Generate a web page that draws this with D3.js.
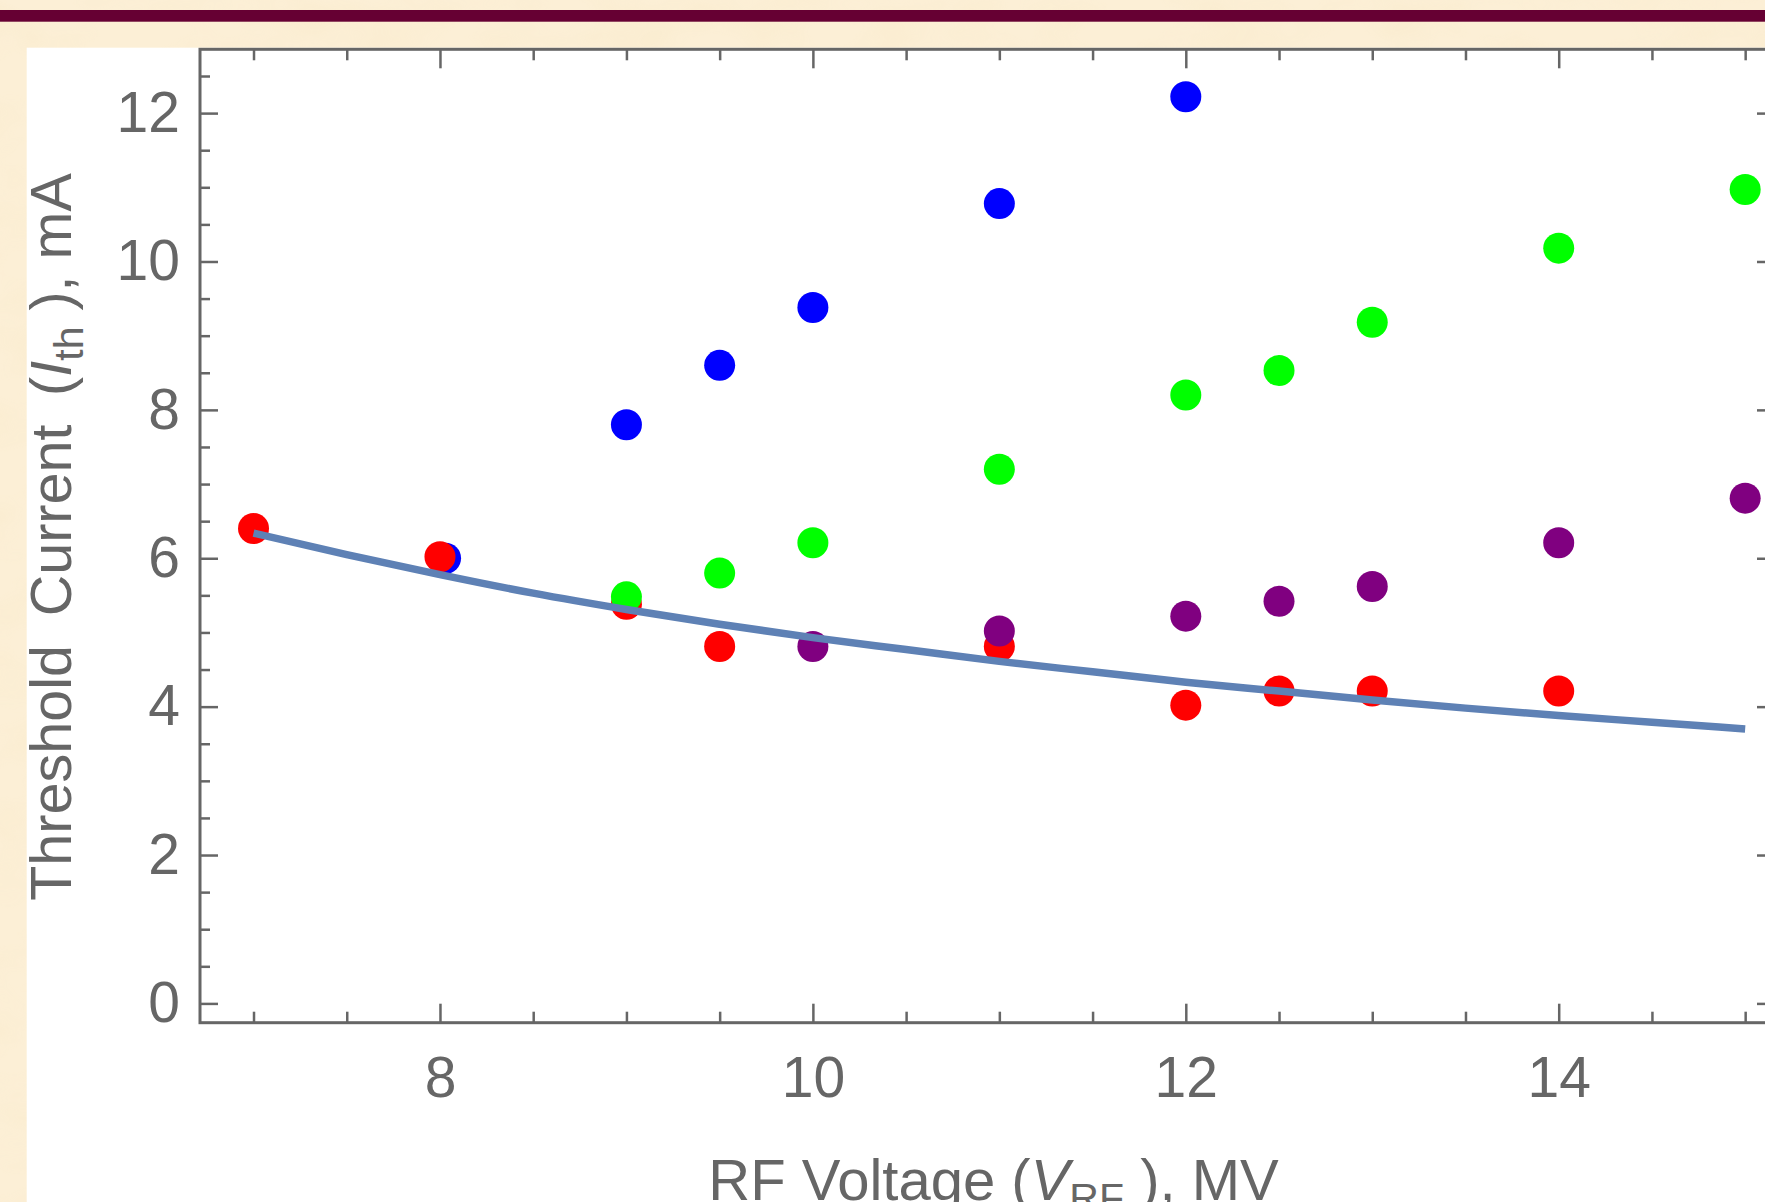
<!DOCTYPE html>
<html>
<head>
<meta charset="utf-8">
<script src="https://cdn.jsdelivr.net/npm/d3@7"></script>
<style>
  html, body { margin: 0; padding: 0; background: #fcefd6; }
  svg { display: block; }
</style>
</head>
<body>
<svg id="chart" width="1765" height="1202"></svg>
<script>
// Measured threshold currents (mA) against RF voltage (MV), one array pair per series
const blueV   = [8.03, 9, 9.5, 10, 11, 12];
const blueI   = [6.0, 7.8, 8.6, 9.38, 10.78, 12.22];
const redV    = [7, 8, 9, 9.5, 11, 12, 12.5, 13, 14];
const redI    = [6.4, 6.02, 5.38, 4.81, 4.81, 4.02, 4.21, 4.21, 4.21];
const greenV  = [9, 9.5, 10, 11, 12, 12.5, 13, 14, 15];
const greenI  = [5.48, 5.8, 6.21, 7.2, 8.2, 8.53, 9.18, 10.18, 10.97];
const purpleV = [10, 11, 12, 12.5, 13, 14, 15];
const purpleI = [4.81, 5.02, 5.22, 5.42, 5.62, 6.21, 6.81];

// Fitted threshold curve, sampled every 0.5 MV
const fitV = [7, 7.5, 8, 8.5, 9, 9.5, 10, 10.5, 11, 11.5, 12, 12.5, 13, 13.5, 14, 14.5, 15];
const fitI = [6.34, 6.05, 5.78, 5.53, 5.31, 5.11, 4.93, 4.77, 4.61, 4.47, 4.33, 4.21, 4.09, 3.98, 3.88, 3.79, 3.70];

// Tick values
const xMajorTicks = [8, 10, 12, 14];
const xMinorTicks = [7, 7.5, 8.5, 9, 9.5, 10.5, 11, 11.5, 12.5, 13, 13.5, 14.5, 15];
const yMajorTicks = [0, 2, 4, 6, 8, 10, 12];
const yMinorTicks = [0.5, 1, 1.5, 2.5, 3, 3.5, 4.5, 5, 5.5, 6.5, 7, 7.5, 8.5, 9, 9.5, 10.5, 11, 11.5, 12.5];

const series = [
  { v: blueV,   i: blueI,   color: "#0000ff" },
  { v: redV,    i: redI,    color: "#ff0000" },
  { v: greenV,  i: greenI,  color: "#00ff00" },
  { v: purpleV, i: purpleI, color: "#800080" }
];

const W = 1765, H = 1202;
const frame = { left: 200, right: 1775, top: 49.3, bottom: 1022.7 };
const axisColor = "#666666";
const fontFamily = "'Liberation Sans', Arial, Helvetica, sans-serif";

const svg = d3.select("#chart");

// Parchment backdrop
const defs = svg.append("defs");
const paper = defs.append("filter").attr("id", "paper")
  .attr("x", 0).attr("y", 0).attr("width", "100%").attr("height", "100%");
paper.append("feTurbulence").attr("type", "fractalNoise")
  .attr("baseFrequency", "0.012 0.02").attr("numOctaves", 3).attr("seed", 7).attr("result", "noise");
paper.append("feColorMatrix").attr("in", "noise").attr("type", "matrix")
  .attr("values", "0 0 0 0 0.93  0 0 0 0 0.80  0 0 0 0 0.55  0 0 0 -1.6 0.95");

svg.append("rect").attr("width", W).attr("height", H).attr("fill", "#fcefd6");
svg.append("rect").attr("width", W).attr("height", H).attr("fill", "#fff").attr("filter", "url(#paper)").attr("opacity", 0.4);

// Header rule
svg.append("rect").attr("x", 0).attr("y", 10).attr("width", W).attr("height", 11.7).attr("fill", "#660033");

// White plot card
svg.append("rect").attr("x", 26.7).attr("y", 47.7).attr("width", W).attr("height", H).attr("fill", "#ffffff");

const x = d3.scaleLinear().domain([6.713, 15.16]).range([frame.left, frame.right]);
const y = d3.scaleLinear().domain([-0.26, 12.86]).range([frame.bottom, frame.top]);

const fmt = d3.format("d");

function styleAxis(g, showText) {
  g.select(".domain").remove();
  g.selectAll(".tick line").attr("stroke", axisColor).attr("stroke-width", 2.5);
  g.selectAll(".tick text")
    .attr("fill", axisColor)
    .attr("font-family", fontFamily)
    .attr("font-size", 57)
    .attr("display", showText ? null : "none");
}

// Bottom axis
svg.append("g").attr("transform", `translate(0,${frame.bottom})`)
  .call(d3.axisBottom(x).tickValues(xMajorTicks).tickSize(-19).tickPadding(34).tickFormat(fmt))
  .call(g => styleAxis(g, true));
svg.append("g").attr("transform", `translate(0,${frame.bottom})`)
  .call(d3.axisBottom(x).tickValues(xMinorTicks).tickSize(-11).tickFormat(""))
  .call(g => styleAxis(g, false));
// Top axis
svg.append("g").attr("transform", `translate(0,${frame.top})`)
  .call(d3.axisTop(x).tickValues(xMajorTicks).tickSize(-19).tickFormat(""))
  .call(g => styleAxis(g, false));
svg.append("g").attr("transform", `translate(0,${frame.top})`)
  .call(d3.axisTop(x).tickValues(xMinorTicks).tickSize(-11).tickFormat(""))
  .call(g => styleAxis(g, false));
// Left axis
svg.append("g").attr("transform", `translate(${frame.left},0)`)
  .call(d3.axisLeft(y).tickValues(yMajorTicks).tickSize(-18).tickPadding(20).tickFormat(fmt))
  .call(g => styleAxis(g, true));
svg.append("g").attr("transform", `translate(${frame.left},0)`)
  .call(d3.axisLeft(y).tickValues(yMinorTicks).tickSize(-10).tickFormat(""))
  .call(g => styleAxis(g, false));
// Right axis
svg.append("g").attr("transform", `translate(${frame.right},0)`)
  .call(d3.axisRight(y).tickValues(yMajorTicks).tickSize(-18).tickFormat(""))
  .call(g => styleAxis(g, false));
svg.append("g").attr("transform", `translate(${frame.right},0)`)
  .call(d3.axisRight(y).tickValues(yMinorTicks).tickSize(-10).tickFormat(""))
  .call(g => styleAxis(g, false));

// Frame
svg.append("rect")
  .attr("x", frame.left).attr("y", frame.top)
  .attr("width", frame.right - frame.left).attr("height", frame.bottom - frame.top)
  .attr("fill", "none").attr("stroke", axisColor).attr("stroke-width", 3);

// Data points
const plot = svg.append("g");
series.forEach(s => {
  plot.append("g").selectAll("circle")
    .data(s.v.map((v, k) => [v, s.i[k]]))
    .join("circle")
    .attr("cx", d => x(d[0]))
    .attr("cy", d => y(d[1]))
    .attr("r", 15.5)
    .attr("fill", s.color);
});

// Fit curve
const line = d3.line().x(d => x(d[0])).y(d => y(d[1])).curve(d3.curveMonotoneX);
plot.append("path")
  .datum(fitV.map((v, k) => [v, fitI[k]]))
  .attr("d", line)
  .attr("fill", "none")
  .attr("stroke", "#5e81b5")
  .attr("stroke-width", 7.5);

// Axis titles
const xTitle = svg.append("text")
  .attr("x", (frame.left + frame.right) / 2 + 6)
  .attr("y", 1200)
  .attr("text-anchor", "middle")
  .attr("font-family", fontFamily)
  .attr("font-size", 58)
  .attr("fill", axisColor);
xTitle.append("tspan").text("RF Voltage (");
xTitle.append("tspan").attr("font-style", "italic").text("V");
xTitle.append("tspan").attr("font-size", 41).attr("dy", 12).text("RF");
xTitle.append("tspan").attr("dy", -12).text(" ), MV");

const yTitle = svg.append("text")
  .attr("transform", `translate(71,537) rotate(-90)`)
  .attr("text-anchor", "middle")
  .attr("font-family", fontFamily)
  .attr("font-size", 57.5)
  .attr("fill", axisColor)
  .attr("xml:space", "preserve");
yTitle.append("tspan").text("Threshold\u2002Current\u2002(");
yTitle.append("tspan").attr("font-style", "italic").text("I");
yTitle.append("tspan").attr("font-size", 41).attr("dy", 12).text("th");
yTitle.append("tspan").attr("dy", -12).text(" ), mA");
</script>
</body>
</html>
